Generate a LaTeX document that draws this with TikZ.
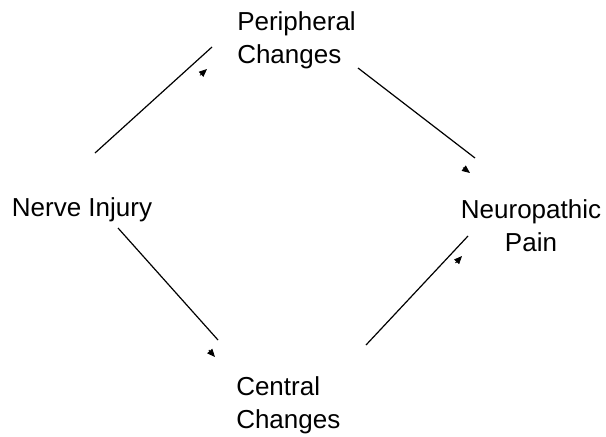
\documentclass[tikz,border=0pt]{standalone}
\usepackage{fontspec}
\setmainfont{Liberation Sans}
\usetikzlibrary{arrows.meta,calc}

\tikzset{
    label text/.style={align=center, font=\fontsize{19.5}{24.5}\selectfont, inner sep=0pt},
    link/.style={line width=0.9pt},
    headtip/.style={-{Triangle[length=6pt,width=5pt]}, line width=0.6pt}
}

\begin{document}
\begin{tikzpicture}[x=0.75pt, y=-0.75pt]
    \useasboundingbox (0, 0) rectangle (606, 436);
    % the four labels
    \node[label text, align=left, anchor=west] (pc) at (237, 40) {Peripheral\\Changes};
    \node[label text] (ni) at (82, 210) {Nerve Injury};
    \node[label text] (np) at (531, 226) {Neuropathic\\Pain};
    \node[label text, align=left, anchor=west] (cc) at (236, 405) {Central\\Changes};
    % line ends
    \coordinate (a1) at (95, 153);  \coordinate (b1) at (212, 47);
    \coordinate (a2) at (358, 68);  \coordinate (b2) at (475, 158);
    \coordinate (a3) at (118, 228); \coordinate (b3) at (218, 340);
    \coordinate (a4) at (366, 345); \coordinate (b4) at (468, 236);
    % arrow heads
    \coordinate (h1) at (207, 69);
    \coordinate (h2) at (470, 173);
    \coordinate (h3) at (215, 357);
    \coordinate (h4) at (462, 256);
    \draw[link] (a1) -- (b1);
    \draw[link] (a2) -- (b2);
    \draw[link] (a3) -- (b3);
    \draw[link] (a4) -- (b4);
    \draw[headtip] ($(h1)+(-7, 6.3)$) -- (h1);
    \draw[headtip] ($(h2)+(-7, -5.4)$) -- (h2);
    \draw[headtip] ($(h3)+(-6.2, -7)$) -- (h3);
    \draw[headtip] ($(h4)+(-6.5, 7)$) -- (h4);
\end{tikzpicture}
\end{document}
